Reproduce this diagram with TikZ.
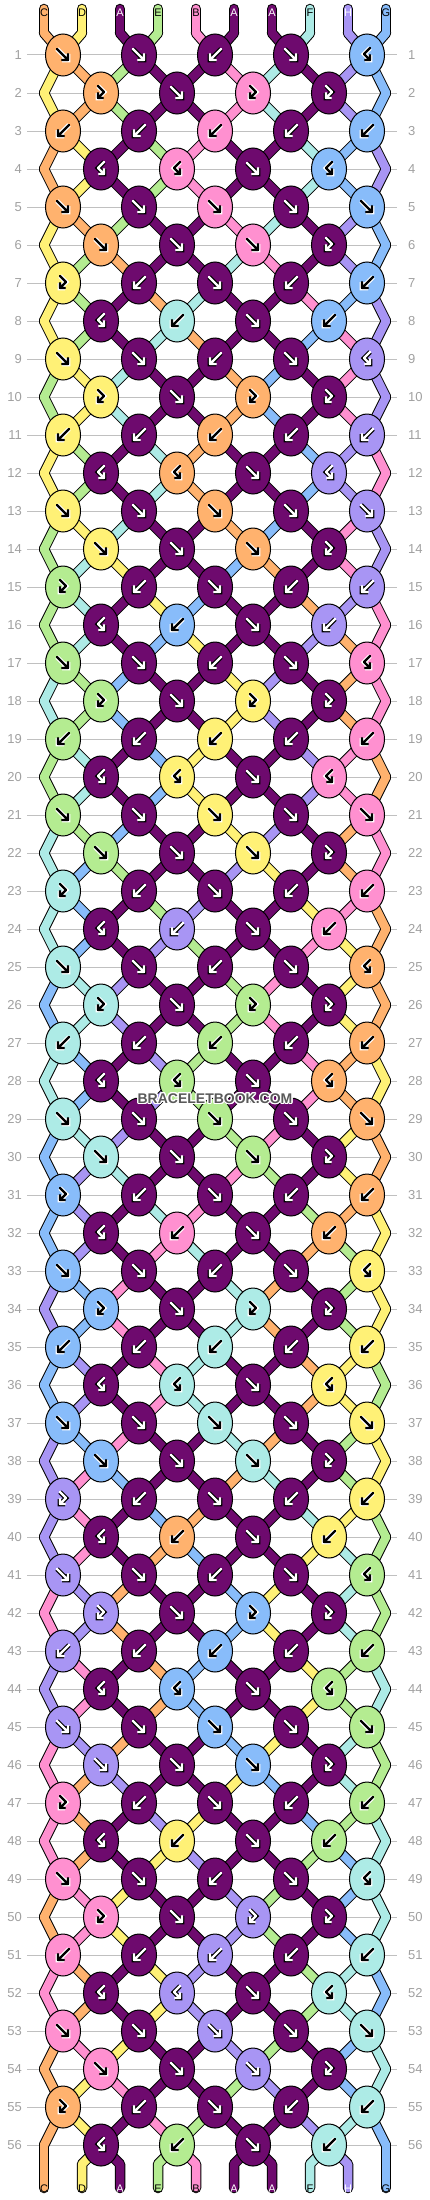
\documentclass[tikz,border=0pt]{standalone}
\usepackage{fontspec}
\setmainfont{Liberation Sans}
\usepackage{xcolor}
\usepackage{tikz}
\usepackage{contour}
\contourlength{1.2pt}
\usetikzlibrary{
  shapes.geometric}

\definecolor{strA}{HTML}{6E0A6E}
\definecolor{strB}{HTML}{FF90D0}
\definecolor{strC}{HTML}{FFB26E}
\definecolor{strD}{HTML}{FFF176}
\definecolor{strE}{HTML}{B4EC91}
\definecolor{strF}{HTML}{ADEBE6}
\definecolor{strG}{HTML}{88BCFA}
\definecolor{strH}{HTML}{A895F4}
\definecolor{gridgray}{HTML}{C0C0C0}
\definecolor{numgray}{HTML}{A0A0A0}

\tikzset{
  rowline/.style={gridgray, line width=1pt},
  rownum/.style={numgray, font=\fontsize{13}{13}\selectfont, inner sep=0pt},
  tag/.style={font=\fontsize{11}{11}\selectfont, inner sep=0pt},
  strand/.style={line cap=round, line join=round},
  knot/.style={ellipse, draw=black, line width=1pt, fill=#1,
    minimum width=35pt, minimum height=42pt, inner sep=0pt},
  glyph/.style={draw=\gcore, line width=2.2pt, line cap=round, line join=round,
    preaction={draw=\grim, line width=4.6pt}}
}

% knot types: 1 fwd, 2 bwd, 3 fwd-bwd, 4 bwd-fwd -- the 8 rows repeat
\expandafter\def\csname row1\endcsname{1,1,2,1,4}
\expandafter\def\csname row2\endcsname{3,1,3,3}
\expandafter\def\csname row3\endcsname{2,2,2,2,2}
\expandafter\def\csname row4\endcsname{4,4,1,4}
\expandafter\def\csname row5\endcsname{1,1,1,1,1}
\expandafter\def\csname row6\endcsname{1,1,1,3}
\expandafter\def\csname row7\endcsname{3,2,1,2,2}
\expandafter\def\csname row8\endcsname{4,2,1,2}
\def\startorder{C,D,A,E,B,A,A,F,H,G}

\begin{document}
\begin{tikzpicture}[x=1pt,y=-1pt]
\useasboundingbox (0,0) rectangle (430,2200);

\foreach \rw in {1,...,56} {
  \pgfmathsetmacro\yy{17+38*\rw}
  \node[rownum, anchor=east] (lnum-\rw) at (22,\yy) {\rw};
  \node[rownum, anchor=west] (rnum-\rw) at (408,\yy) {\rw};
  \draw[rowline] (27,\yy) -- (397,\yy);
}

% follow the strings through the rows first
\foreach \lt [count=\ps from 0] in \startorder {
  \pgfmathsetmacro\xx{44+38*\ps}
  \coordinate (top-\ps) at (\xx,9);
  \coordinate (h-0-\ps) at (\xx,33);
  \coordinate (bend-\ps) at (\xx,2164);
  \coordinate (end-\ps) at (\xx,2188);
  \expandafter\xdef\csname s\ps\endcsname{\lt}
  \expandafter\xdef\csname seg-0-\ps\endcsname{\lt}
}
\foreach \rw in {1,...,56} {
  \pgfmathtruncatemacro\isodd{mod(\rw,2)}
  \pgfmathtruncatemacro\blk{mod(\rw-1,8)+1}
  \pgfmathsetmacro\yy{17+38*\rw}
  \foreach \ps in {0,...,9} {
    \pgfmathsetmacro\xx{\isodd==1 ? 63+76*floor(\ps/2) : (\ps==0 ? 44 : (\ps==9 ? 386 : 101+76*floor((\ps-1)/2)))}
    \coordinate (h-\rw-\ps) at (\xx,\yy);
  }
  \edef\knots{\csname row\blk\endcsname}
  \foreach \kt [count=\kn] in \knots {
    \pgfmathtruncatemacro\lft{\isodd==1 ? 2*(\kn-1) : 2*\kn-1}
    \pgfmathtruncatemacro\rgt{\lft+1}
    \edef\lcol{\csname s\lft\endcsname}
    \edef\rcol{\csname s\rgt\endcsname}
    \ifodd\kt \let\kl\lcol \else \let\kl\rcol \fi
    \expandafter\xdef\csname kt-\rw-\kn\endcsname{\kt}
    \expandafter\xdef\csname kc-\rw-\kn\endcsname{\kl}
    \ifnum\kt<3
      \expandafter\xdef\csname s\lft\endcsname{\rcol}
      \expandafter\xdef\csname s\rgt\endcsname{\lcol}
    \fi
  }
  \foreach \ps in {0,...,9} {
    \expandafter\xdef\csname seg-\rw-\ps\endcsname{\csname s\ps\endcsname}
  }
}

% strings: black rim, then the colour
\foreach \wd/\isrim in {10.5/1,8.5/0} {
  \foreach \ps in {0,...,9} {
    \edef\lt{\csname seg-0-\ps\endcsname}
    \ifnum\isrim=1 \def\dc{black}\else\edef\dc{str\lt}\fi
    \draw[strand, line width=\wd pt, draw=\dc] (top-\ps) -- (h-0-\ps);
    \edef\lt{\csname seg-56-\ps\endcsname}
    \ifnum\isrim=1 \def\dc{black}\else\edef\dc{str\lt}\fi
    \draw[strand, line width=\wd pt, draw=\dc] (h-56-\ps) -- (bend-\ps) -- (end-\ps);
  }
  \foreach \rw in {1,...,56} {
    \pgfmathtruncatemacro\pv{\rw-1}
    \foreach \ps in {0,...,9} {
      \edef\lt{\csname seg-\pv-\ps\endcsname}
      \ifnum\isrim=1 \def\dc{black}\else\edef\dc{str\lt}\fi
      \draw[strand, line width=\wd pt, draw=\dc] (h-\pv-\ps) -- (h-\rw-\ps);
    }
  }
}

% knots
\foreach \rw in {1,...,56} {
  \pgfmathtruncatemacro\nk{5-mod(\rw+1,2)}
  \pgfmathsetmacro\yy{17+38*\rw}
  \foreach \kn in {1,...,\nk} {
    \pgfmathsetmacro\kx{mod(\rw,2)==1 ? 63+76*(\kn-1) : 101+76*(\kn-1)}
    \edef\kt{\csname kt-\rw-\kn\endcsname}
    \edef\kl{\csname kc-\rw-\kn\endcsname}
    \def\gcore{black}\def\grim{white}
    \if A\kl \def\gcore{white}\def\grim{black}\fi
    \if H\kl \def\gcore{white}\def\grim{black}\fi
    \node[knot=str\kl] (k-\rw-\kn) at (\kx,\yy) {};
    \begin{scope}[shift={(\kx,\yy)}]
      \ifcase\kt\or
        \draw[glyph] (-6,-6) -- (5,5) (-1,5) -- (5,5) -- (5,-1);
      \or
        \draw[glyph] (6,-6) -- (-5,5) (1,5) -- (-5,5) -- (-5,-1);
      \or
        \draw[glyph] (-3,-7) -- (3,-1) -- (-3,5) (-3,0) -- (-3,5) -- (2,5);
      \or
        \draw[glyph] (3,-7) -- (-3,-1) -- (3,5) (3,0) -- (3,5) -- (-2,5);
      \fi
    \end{scope}
  }
}

% string tags
\foreach \ps in {0,...,9} {
  \pgfmathsetmacro\xx{44+38*\ps}
  \edef\lt{\csname seg-0-\ps\endcsname}
  \def\tcol{black}\if A\lt\def\tcol{white}\fi\if H\lt\def\tcol{white}\fi
  \node[tag, text=\tcol] (ttag-\ps) at (\xx,13) {\lt};
  \edef\lt{\csname seg-56-\ps\endcsname}
  \def\tcol{black}\if A\lt\def\tcol{white}\fi\if H\lt\def\tcol{white}\fi
  \node[tag, text=\tcol] (btag-\ps) at (\xx,2189) {\lt};
}

\node[font=\bfseries\fontsize{14}{14}\selectfont, text=black!65] (mark) at (215,1099) {\contour{white}{BRACELETBOOK.COM}};
\end{tikzpicture}
\end{document}
